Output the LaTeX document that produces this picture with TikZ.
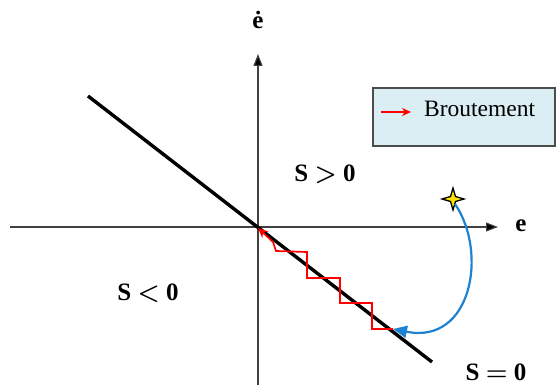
\documentclass[tikz,border=0pt]{standalone}
\usepackage{amsmath}
\usepackage{bm}
\usepackage{fontspec}
\setmainfont{Liberation Serif}
\usetikzlibrary{arrows.meta}
\definecolor{legfill}{HTML}{DAEEF3}
\definecolor{arcblue}{RGB}{30,130,210}
\definecolor{stepred}{RGB}{255,0,0}
\tikzset{
  axisline/.style={line width=1.1pt, draw=black!75, -{Triangle[length=12pt,width=9pt,fill=black]}},
  slidline/.style={line width=3.4pt, draw=black},
  chatter/.style={line width=1.7pt, draw=stepred},
  lbl/.style={font=\fontsize{25}{27}\selectfont\bfseries, inner sep=0pt},
}
\begin{document}
\begin{tikzpicture}[x=1pt,y=-1pt]
\useasboundingbox (0,0) rectangle (557,385);
% axes
\coordinate (O) at (258,227);
\coordinate (xs) at (10,227);
\coordinate (xe) at (498,227);
\coordinate (ys) at (258,385);
\coordinate (ye) at (258,54);
\draw[axisline] (xs) -- (xe);
\draw[axisline] (ys) -- (ye);
\node[lbl] (elab) at (521,226) {e};
\node[lbl] (edlab) at (258,20) {ė};
% sliding line
\coordinate (L1) at (88,96);
\coordinate (L2) at (432,362);
\draw[slidline] (L1) -- (L2);
% region labels
\node[lbl] (spos) at (325,174) {S $\boldsymbol{>}$ 0};
\node[lbl] (sneg) at (148,293) {S $\boldsymbol{<}$ 0};
\node[lbl] (szero) at (496,372) {S $\boldsymbol{=}$ 0};
% chattering staircase
\coordinate (R0) at (393,329);
\coordinate (Rend) at (258,228);
\draw[chatter, -{Stealth[length=10pt,width=9pt]}]
  (R0) -- (372,329) -- (372,303) -- (340,303) -- (340,278) -- (307,278)
  -- (307,252) -- (276,251) -- (273,242) -- (Rend);
% star (initial point)
\coordinate (st) at (453,199);
\filldraw[fill=yellow!85!orange, draw=black, line width=1.3pt]
  (st) ++(0,-11) -- ++(2.5,8.5) -- ++(8.5,2.5) -- ++(-8.5,2.5)
  -- ++(-2.5,8.5) -- ++(-2.5,-8.5) -- ++(-8.5,-2.5) -- ++(8.5,-2.5) -- cycle;
% blue reaching arc
\coordinate (bs) at (455,204);
\draw[arcblue, line width=2.2pt, -{Triangle[length=14pt,width=12pt]}]
  (bs) .. controls (488,252) and (472,345) .. (R0);
% legend
\node[draw=black!70, line width=1.4pt, fill=legfill, minimum width=182pt,
      minimum height=58pt, inner sep=0pt] (leg) at (464,117) {};
\coordinate (la1) at (381,112);
\coordinate (la2) at (411,112);
\draw[chatter, -{Stealth[length=9pt,width=8pt]}] (la1) -- (la2);
\node[font=\fontsize{23.5}{25}\selectfont, anchor=west, inner sep=0pt] (legtxt) at (424,109) {Broutement};
\end{tikzpicture}
\end{document}
